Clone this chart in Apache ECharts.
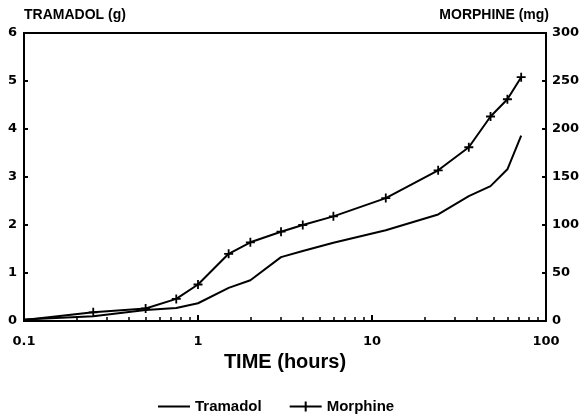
<!DOCTYPE html>
<html>
<head>
<meta charset="utf-8">
<script src="https://cdn.jsdelivr.net/npm/echarts@6/dist/echarts.min.js"></script>
<style>html,body{margin:0;padding:0;background:#fff;}#c{width:587px;height:416px;}</style>
</head>
<body>
<div id="c"></div>
<script>
// time points (hours)
const times = [0.1, 0.25, 0.5, 0.75, 1, 1.5, 2, 3, 4, 6, 12, 24, 36, 48, 60, 72];
// cumulative tramadol (g)
const tramadol = [0.03, 0.1, 0.23, 0.27, 0.37, 0.69, 0.85, 1.33, 1.46, 1.63, 1.89, 2.22, 2.60, 2.81, 3.16, 3.86];
// cumulative morphine (mg)
const morphine = [1, 9, 13, 23, 38, 70, 82, 93, 100, 109, 128, 157, 181, 213, 231, 254];
// minor tick positions on the log time axis
const minorTicks = [0.2,0.3,0.4,0.5,0.6,0.7,0.8,0.9,2,3,4,5,6,7,8,9,20,30,40,50,60,70,80,90];

const plus = 'path://M4,0h2v4h4v2h-4v4h-2v-4h-4v-2h4z';
const lineIcon = 'path://M0,0h0.01v0.01h-0.01z M0,4h32v2h-32z M32,10h-0.01v-0.01h0.01z';
const plusIcon = 'path://M0,4h15v-4h2v4h15v2h-15v4h-2v-4h-15z';
const tickFont = {fontFamily:'DejaVu Sans', fontWeight:'bold', fontSize:13, color:'#000'};
const nameFont = {fontFamily:'Liberation Sans', fontWeight:'bold', fontSize:14, color:'#000'};

const chart = echarts.init(document.getElementById('c'), null, {renderer:'canvas'});
chart.setOption({
  animation:false,
  backgroundColor:'#fff',
  grid:{left:24, right:41, top:33, bottom:95, show:true, borderColor:'#000', borderWidth:2, backgroundColor:'transparent'},
  legend:{
    left:153, top:394, itemWidth:32, itemHeight:10, itemGap:28,
    textStyle:{fontFamily:'Liberation Sans', fontWeight:'bold', fontSize:15, color:'#000'},
    data:[{name:'Tramadol', icon:lineIcon},{name:'Morphine', icon:plusIcon}]
  },
  xAxis:[{
    type:'log', logBase:10, min:0.1, max:100,
    name:'TIME (hours)', nameLocation:'middle', nameGap:41,
    nameTextStyle:{fontFamily:'Liberation Sans', fontWeight:'bold', fontSize:20, color:'#000', verticalAlign:'middle'},
    axisLine:{lineStyle:{color:'#000', width:2}},
    axisTick:{inside:true, length:6, lineStyle:{color:'#000', width:2}},
    axisLabel:Object.assign({margin:14}, tickFont),
    splitLine:{show:false}, minorSplitLine:{show:false}
  },{
    type:'log', logBase:10, min:0.1, max:100, position:'bottom',
    axisLine:{show:false},
    axisTick:{show:true, inside:true, length:4, customValues:minorTicks, lineStyle:{color:'#000', width:1.5}},
    axisLabel:{show:false}, splitLine:{show:false}
  }],
  yAxis:[{
    type:'value', min:0, max:6, interval:1, position:'left',
    name:'TRAMADOL (g)', nameLocation:'end', nameGap:18,
    nameTextStyle:Object.assign({align:'left', verticalAlign:'middle'}, nameFont),
    axisLine:{show:true, lineStyle:{color:'#000', width:2}},
    axisTick:{show:true, inside:true, length:4, lineStyle:{color:'#000', width:2}},
    axisLabel:Object.assign({margin:7}, tickFont),
    splitLine:{show:false}
  },{
    type:'value', min:0, max:300, interval:50, position:'right',
    name:'MORPHINE (mg)', nameLocation:'end', nameGap:18,
    nameTextStyle:Object.assign({align:'right', verticalAlign:'middle', padding:[0,-3,0,0]}, nameFont),
    axisLine:{show:true, lineStyle:{color:'#000', width:2}},
    axisTick:{show:true, inside:true, length:4, lineStyle:{color:'#000', width:2}},
    axisLabel:Object.assign({margin:6}, tickFont),
    splitLine:{show:false}
  }],
  series:[{
    name:'Tramadol', type:'line', xAxisIndex:0, yAxisIndex:0,
    data:times.map((t,i)=>[t, tramadol[i]]),
    symbol:'none', lineStyle:{color:'#000', width:2}, itemStyle:{color:'#000'}
  },{
    name:'Morphine', type:'line', xAxisIndex:0, yAxisIndex:1,
    data:times.map((t,i)=> i===0 ? {value:[t, morphine[i]], symbol:'none'} : [t, morphine[i]]),
    symbol:plus, symbolSize:9, showAllSymbol:true,
    lineStyle:{color:'#000', width:2}, itemStyle:{color:'#000'}
  }]
});
</script>
</body>
</html>
